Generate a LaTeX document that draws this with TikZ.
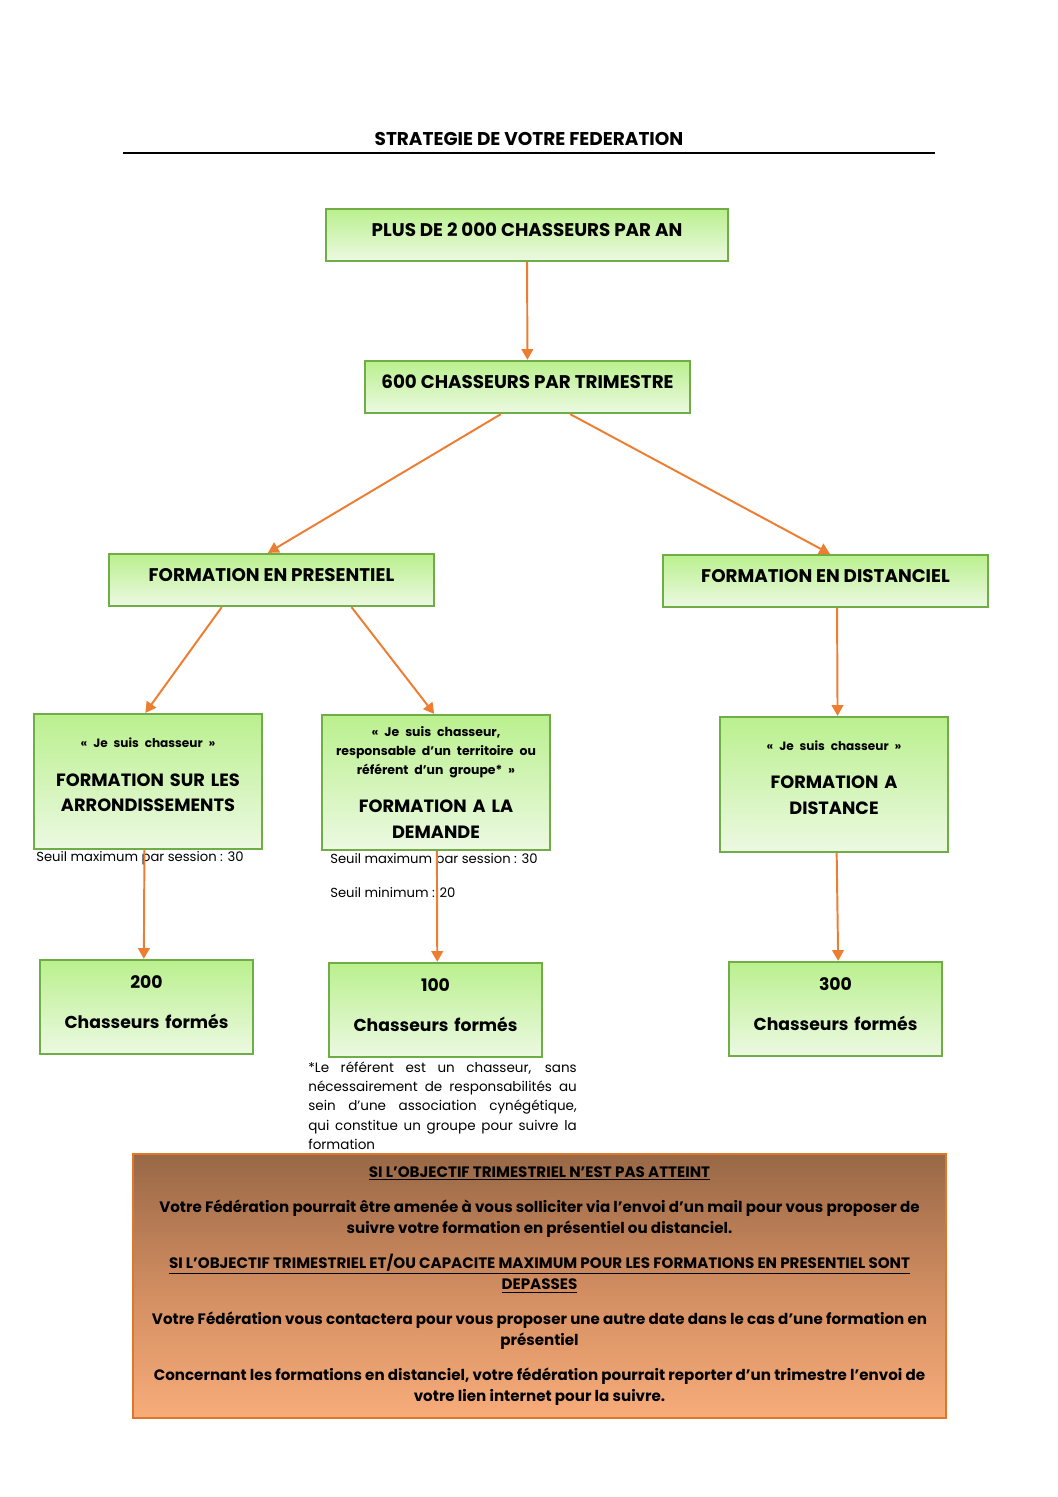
\documentclass[tikz,border=0pt]{standalone}
\usepackage{fontspec}
\setmainfont{Poppins}
\usetikzlibrary{arrows.meta}
\definecolor{boxline}{RGB}{112,173,71}
\definecolor{boxtop}{RGB}{186,240,142}
\definecolor{boxbot}{RGB}{236,249,226}
\definecolor{arrcol}{RGB}{237,125,49}
\definecolor{notetop}{RGB}{152,104,70}
\definecolor{notemid}{RGB}{208,140,96}
\definecolor{notebot}{RGB}{248,172,122}
\definecolor{noteline}{RGB}{224,118,42}
\begin{document}
\begin{tikzpicture}[x=0.5625pt,y=-0.5625pt]
\tikzstyle{box}=[draw=boxline,line width=1.3pt,top color=boxtop,bottom color=boxbot,align=center,inner sep=0pt];
\tikzstyle{head}=[box,minimum width=182.8pt,minimum height=29.25pt,text depth=6pt,font=\bfseries\fontsize{10.3}{12}\selectfont];
\tikzstyle{form}=[box,minimum width=128.25pt,minimum height=75.9pt];
\tikzstyle{res}=[box,minimum width=119.8pt,minimum height=52.9pt];
\tikzstyle{formtxt}=[text width=126pt,align=center,inner sep=0pt,font=\bfseries\fontsize{10}{14.6}\selectfont];
\tikzstyle{restxt}=[text width=118pt,align=center,inner sep=0pt,font=\bfseries\fontsize{9.7}{12}\selectfont];
\tikzstyle{seuil}=[right,inner sep=0pt,font=\fontsize{7.4}{10}\selectfont];
\tikzstyle{alloc}=[-{Triangle[width=6.5pt,length=6pt]},arrcol,line width=1.1pt];
\useasboundingbox (0,0) rectangle (1058,1497);

% title
\node [font=\bfseries\fontsize{10.4}{12}\selectfont] (t0) at (529,139) {STRATEGIE DE VOTRE FEDERATION};
\draw [line width=0.9pt] (123,153) -- (935,153);

% top levels
\node [head,minimum width=226.1pt] (v1) at (527,235) {PLUS DE 2 000 CHASSEURS PAR AN};
\node [head] (v2) at (527.5,387) {600 CHASSEURS PAR TRIMESTRE};
\node [head] (v3) at (271.5,580) {FORMATION EN PRESENTIEL};
\node [head] (v4) at (825.5,581) {FORMATION EN DISTANCIEL};

% formations
\node [form] (v5) at (148,781.5) {};
\node [formtxt] (t5) at (148,775) {{\fontsize{6.8}{10}\selectfont « Je suis chasseur »\par}\vspace{7pt}
  FORMATION SUR LES\\ARRONDISSEMENTS};
\node [form] (v6) at (436,782.5) {};
\node [formtxt] (t6) at (436,782.5) {{\fontsize{7}{10.7}\selectfont « Je suis chasseur,\\responsable d'un territoire ou\\référent d'un groupe* »\par}\vspace{7pt}
  FORMATION A LA\\DEMANDE};
\node [form] (v7) at (834,784.5) {};
\node [formtxt] (t7) at (834,777.5) {{\fontsize{6.8}{10}\selectfont « Je suis chasseur »\par}\vspace{7pt}
  FORMATION A\\DISTANCE};

% seuils
\node [seuil] (s1) at (36,858) {Seuil maximum par session : 30};
\node [seuil] (s2) at (330,860) {Seuil maximum par session : 30};
\node [seuil] (s3) at (330,893) {Seuil minimum : 20};

% results
\node [res] (v8) at (146.5,1007) {};
\node [restxt] (t8) at (146.5,1002) {200\\[10.5pt]Chasseurs formés};
\node [res] (v9) at (435.5,1010) {};
\node [restxt] (t9) at (435.5,1005) {100\\[10.5pt]Chasseurs formés};
\node [res] (v10) at (835.5,1009) {};
\node [restxt] (t10) at (835.5,1004) {300\\[10.5pt]Chasseurs formés};

% footnote
\node [anchor=north west,inner sep=0pt,text width=151pt,align=justify,font=\fontsize{7.6}{10.7}\selectfont] (f1) at (308,1062)
  {*Le référent est un chasseur, sans\linebreak nécessairement de responsabilités au\linebreak sein d'une association cynégétique,\linebreak qui constitue un groupe pour suivre la\linebreak formation};

% objectives
\node [draw=noteline,line width=1.4pt,top color=notetop,bottom color=notebot,middle color=notemid,
  minimum width=457.3pt,minimum height=148.5pt,align=center,inner sep=0pt,
  font=\bfseries\fontsize{8.5}{11.8}\selectfont] (v11) at (539.5,1286)
  {\underline{SI L'OBJECTIF TRIMESTRIEL N'EST PAS ATTEINT}\\[8pt]
  Votre Fédération pourrait être amenée à vous solliciter via l'envoi d'un mail pour vous proposer de\\
  suivre votre formation en présentiel ou distanciel.\\[8pt]
  \underline{SI L'OBJECTIF TRIMESTRIEL ET/OU CAPACITE MAXIMUM POUR LES FORMATIONS EN PRESENTIEL SONT}\\
  \underline{DEPASSES}\\[8pt]
  Votre Fédération vous contactera pour vous proposer une autre date dans le cas d'une formation en\\
  présentiel\\[8pt]
  Concernant les formations en distanciel, votre fédération pourrait reporter d'un trimestre l'envoi de\\
  votre lien internet pour la suivre.};

\draw [alloc] (v1) -- (v2);
\draw [alloc] ([xshift=-15pt]v2.south) -- ([xshift=-2pt]v3.north);
\draw [alloc] ([xshift=24pt]v2.south) -- ([xshift=2.5pt]v4.north);
\draw [alloc] ([xshift=-28pt]v3.south) -- ([xshift=-1.5pt]v5.north);
\draw [alloc] ([xshift=45pt]v3.south) -- ([xshift=-1pt]v6.north);
\draw [alloc] ([xshift=6.5pt]v4.south) -- ([xshift=2pt]v7.north);
\draw [alloc] ([xshift=-2pt]v5.south) -- ([xshift=-1.5pt]v8.north);
\draw [alloc] ([xshift=0.5pt]v6.south) -- ([xshift=1pt]v9.north);
\draw [alloc] ([xshift=1.5pt]v7.south) -- ([xshift=1.5pt]v10.north);
\end{tikzpicture}
\end{document}
